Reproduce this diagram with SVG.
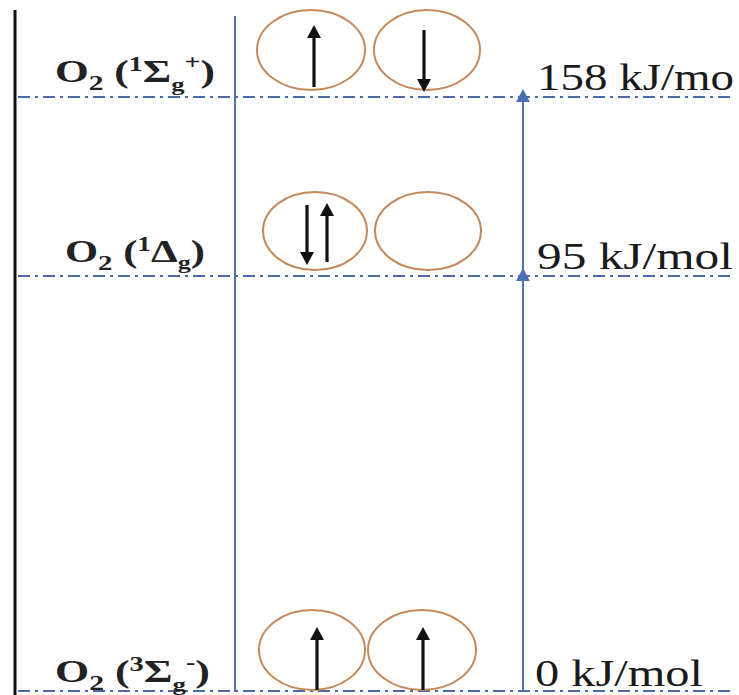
<svg xmlns="http://www.w3.org/2000/svg" width="739" height="695" viewBox="0 0 739 695">
<defs>
<style>
.lbl{font-family:"Liberation Serif","Times New Roman",serif;font-weight:bold;font-size:31px;fill:#222}
.en{font-family:"Liberation Serif","Times New Roman",serif;font-size:37px;fill:#1a1a1a}
.dd{stroke:#4a6aa8;stroke-width:1.8;stroke-dasharray:12 5 3 5;fill:none}
.ax{stroke:#5472ad;stroke-width:2;fill:none}
.orb{fill:#fff;stroke:#c48a5c;stroke-width:2}
.e{stroke:#111;stroke-width:3.2}
.eh{fill:#111}
.bh{fill:#4a6fb5}
</style>
</defs>
<rect width="739" height="695" fill="#fff"/>
<g id="axes">
<line x1="15" y1="10" x2="15" y2="695" stroke="#111" stroke-width="3"/>
<line class="ax" x1="235" y1="16" x2="235" y2="692"/>
</g>
<g id="connectors">
<line class="dd" x1="18" y1="97" x2="735" y2="97"/>
<line class="dd" x1="18" y1="276" x2="735" y2="276"/>
<line class="dd" x1="18" y1="691" x2="735" y2="691"/>
<line class="ax" x1="523" y1="100" x2="523" y2="692"/>
<polygon class="bh" points="523,89 516,102 530,102"/>
<polygon class="bh" points="523,268 516,281 530,281"/>
</g>
<g id="level-sigma-plus">
<text class="lbl" x="55" y="82" textLength="160" lengthAdjust="spacingAndGlyphs">O<tspan font-size="21" dy="8">2</tspan><tspan dy="-8"> (</tspan><tspan font-size="20" dy="-11">1</tspan><tspan dy="11">Σ</tspan><tspan font-size="19" dy="9">g</tspan><tspan font-size="20" dy="-22">+</tspan><tspan dy="13">)</tspan></text>
<ellipse class="orb" cx="311" cy="50" rx="54" ry="40"/>
<ellipse class="orb" cx="427" cy="50" rx="53" ry="40"/>
<line class="e" x1="314" y1="87" x2="314" y2="36"/>
<polygon class="eh" points="314,25 307,38 321,38"/>
<line class="e" x1="424" y1="30" x2="424" y2="80"/>
<polygon class="eh" points="424,92 417,79 431,79"/>
<text class="en" x="537" y="90" textLength="197" lengthAdjust="spacingAndGlyphs">158 kJ/mo</text>
</g>
<g id="level-delta">
<text class="lbl" x="65" y="262" textLength="140" lengthAdjust="spacingAndGlyphs">O<tspan font-size="21" dy="8">2</tspan><tspan dy="-8"> (</tspan><tspan font-size="20" dy="-11">1</tspan><tspan dy="11">Δ</tspan><tspan font-size="19" dy="7">g</tspan><tspan dy="-7">)</tspan></text>
<ellipse class="orb" cx="315" cy="231" rx="52" ry="39"/>
<ellipse class="orb" cx="428" cy="231" rx="53" ry="39"/>
<line class="e" x1="307" y1="205" x2="307" y2="254"/>
<polygon class="eh" points="307,265 300,252 314,252"/>
<line class="e" x1="327" y1="262" x2="327" y2="214" stroke="#333"/>
<polygon class="eh" points="327,203 320,216 334,216"/>
<text class="en" x="537" y="269" textLength="196" lengthAdjust="spacingAndGlyphs">95 kJ/mol</text>
</g>
<g id="level-triplet">
<text class="lbl" x="55" y="682" textLength="155" lengthAdjust="spacingAndGlyphs">O<tspan font-size="21" dy="8">2</tspan><tspan dy="-8"> (</tspan><tspan font-size="20" dy="-11">3</tspan><tspan dy="11">Σ</tspan><tspan font-size="19" dy="9">g</tspan><tspan font-size="20" dy="-22">-</tspan><tspan dy="13">)</tspan></text>
<ellipse class="orb" cx="312" cy="650" rx="53" ry="40"/>
<ellipse class="orb" cx="422" cy="650" rx="54" ry="40"/>
<line class="e" x1="317" y1="690" x2="317" y2="638"/>
<polygon class="eh" points="317,627 310,640 324,640"/>
<line class="e" x1="423" y1="690" x2="423" y2="638"/>
<polygon class="eh" points="423,627 416,640 430,640"/>
<text class="en" x="535" y="686" textLength="168" lengthAdjust="spacingAndGlyphs">0 kJ/mol</text>
</g>
</svg>
